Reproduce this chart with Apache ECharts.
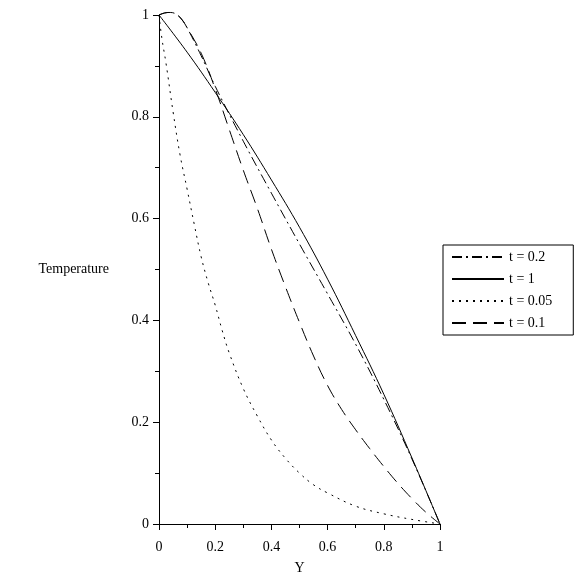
<!DOCTYPE html>
<html>
<head>
<meta charset="utf-8">
<script src="https://cdn.jsdelivr.net/npm/echarts@6/dist/echarts.min.js"></script>
<style>html,body{margin:0;padding:0;background:#fff;}#c{width:574px;height:575px;}</style>
</head>
<body>
<div id="c"></div>
<script>
// t = 0.2 (dash-dot)
var t02X = [0, 0.02, 0.04, 0.06, 0.08, 0.1, 0.15, 0.2, 0.3, 0.4, 0.5, 0.6, 0.7, 0.8, 0.9, 1];
var t02Y = [1, 1.004, 1.005, 1.002, 0.992, 0.975, 0.92, 0.86, 0.752, 0.65, 0.55, 0.452, 0.353, 0.245, 0.128, 0];
// t = 1 (solid)
var t1X = [0, 0.1, 0.2, 0.3, 0.4, 0.5, 0.6, 0.7, 0.8, 0.9, 1];
var t1Y = [1, 0.927, 0.848, 0.765, 0.676, 0.583, 0.481, 0.37, 0.255, 0.13, 0];
// t = 0.05 (dotted)
var t005X = [0, 0.01, 0.025, 0.05, 0.075, 0.1, 0.125, 0.15, 0.175, 0.2, 0.225, 0.25, 0.3, 0.35, 0.4, 0.45, 0.5, 0.55, 0.6, 0.7, 0.8, 0.9, 1];
var t005Y = [1, 0.955, 0.905, 0.81, 0.725, 0.658, 0.59, 0.525, 0.474, 0.43, 0.38, 0.336, 0.266, 0.212, 0.165, 0.129, 0.1, 0.077, 0.061, 0.035, 0.02, 0.009, 0];
// t = 0.1 (long dash)
var t01X = [0, 0.02, 0.04, 0.06, 0.08, 0.1, 0.15, 0.2, 0.25, 0.3, 0.35, 0.4, 0.45, 0.5, 0.55, 0.6, 0.65, 0.7, 0.75, 0.8, 0.85, 0.9, 0.95, 1];
var t01Y = [1, 1.004, 1.005, 1.002, 0.992, 0.975, 0.925, 0.855, 0.775, 0.695, 0.62, 0.54, 0.466, 0.396, 0.33, 0.272, 0.225, 0.185, 0.148, 0.113, 0.08, 0.05, 0.023, 0];

var legendNames = ['t = 0.2', 't = 1', 't = 0.05', 't = 0.1'];

function pairs(xs, ys) { return xs.map(function (x, i) { return [x, ys[i]]; }); }

var FONT = '"Liberation Serif", "DejaVu Serif", serif';
var chart = echarts.init(document.getElementById('c'), null, {renderer: 'canvas'});

function mkSeries(name, xs, ys, type) {
  return {
    name: name, type: 'line', data: pairs(xs, ys), smooth: 0.4,
    symbol: 'none', clip: false, animation: false,
    lineStyle: {color: '#000', width: 1, type: type},
    itemStyle: {color: '#000'}
  };
}

var axisCommon = {
  type: 'value', min: 0, max: 1, interval: 0.2,
  axisLine: {show: true, onZero: false, lineStyle: {color: '#000', width: 1}},
  axisTick: {show: true, length: 6, lineStyle: {color: '#000'}},
  minorTick: {show: true, splitNumber: 2, length: 4, lineStyle: {color: '#000'}},
  splitLine: {show: false},
  axisLabel: {color: '#000', fontFamily: FONT, fontSize: 14}
};

chart.setOption({
  backgroundColor: '#fff',
  animation: false,
  grid: {left: 159, right: 134, top: 15, bottom: 51, containLabel: false, outerBoundsMode: 'none'},
  xAxis: Object.assign({}, axisCommon, {
    axisLabel: Object.assign({}, axisCommon.axisLabel, {margin: 16}),
    name: 'Y', nameLocation: 'middle', nameGap: 37,
    nameTextStyle: {color: '#000', fontFamily: FONT, fontSize: 14}
  }),
  yAxis: Object.assign({}, axisCommon, {
    axisLabel: Object.assign({}, axisCommon.axisLabel, {margin: 10}),
    name: 'Temperature', nameLocation: 'middle', nameGap: 50, nameRotate: 0,
    nameTextStyle: {color: '#000', fontFamily: FONT, fontSize: 14}
  }),
  legend: {
    data: legendNames, orient: 'vertical', left: 443, top: 245,
    backgroundColor: '#fff', borderColor: '#000', borderWidth: 1,
    padding: [5, 21, 5, 8], itemGap: 8, itemWidth: 52, itemHeight: 12,
    itemStyle: {opacity: 0, color: 'transparent', borderWidth: 0},
    textStyle: {color: '#000', fontFamily: FONT, fontSize: 14},
    selectedMode: false
  },
  series: [
    mkSeries(legendNames[0], t02X, t02Y, [10, 4, 2, 4]),
    mkSeries(legendNames[1], t1X, t1Y, 'solid'),
    mkSeries(legendNames[2], t005X, t005Y, [2, 5]),
    mkSeries(legendNames[3], t01X, t01Y, [14, 7])
  ]
});
</script>
</body>
</html>
